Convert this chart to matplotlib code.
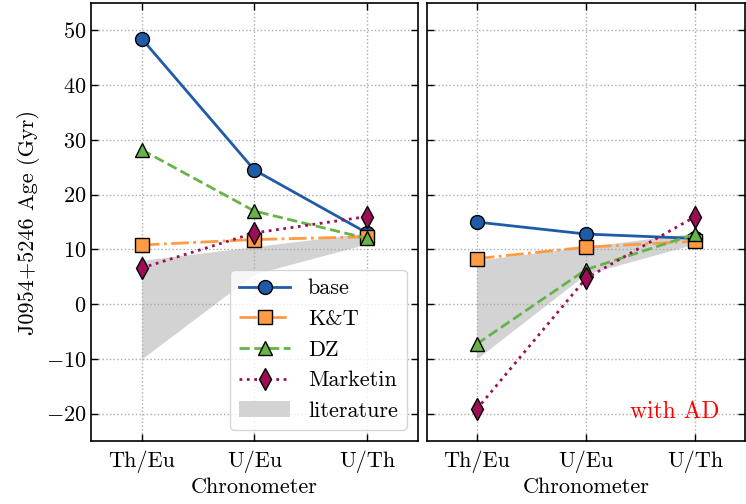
import matplotlib
matplotlib.use("Agg")
import matplotlib.pyplot as plt

plt.rcParams["font.family"] = "serif"
plt.rcParams["font.serif"] = ["cmr10"]
plt.rcParams["mathtext.fontset"] = "cm"
plt.rcParams["axes.formatter.use_mathtext"] = True
plt.rcParams["font.size"] = 16

# Data
chronometers = ["Th/Eu", "U/Eu", "U/Th"]
x = [0, 1, 2]

base_noad = [48.5, 24.5, 13.0]
kt_noad = [10.8, 11.8, 12.3]
dz_noad = [28.2, 17.0, 12.0]
marketin_noad = [6.6, 13.0, 16.0]

base_ad = [15.0, 12.8, 12.0]
kt_ad = [8.3, 10.4, 11.5]
dz_ad = [-7.3, 6.3, 12.8]
marketin_ad = [-19.2, 4.7, 16.0]

lit_low = [-10.0, 5.5, 11.0]
lit_high = [8.0, 10.5, 13.0]

c_base = "#1f5ba6"
c_kt = "#ff9a45"
c_dz = "#66b447"
c_mar = "#9c0f55"

fig = plt.figure(figsize=(7.46, 5.04), dpi=100)
ax1 = fig.add_axes([0.122, 0.125, 0.438, 0.869])
ax2 = fig.add_axes([0.573, 0.125, 0.425, 0.869], sharey=ax1)

mk = dict(markersize=10, markeredgecolor="black", markeredgewidth=1.0)


def draw(ax, base, kt, dz, mar):
    ax.fill_between(x, lit_low, lit_high, color="lightgray", lw=0, label="literature", zorder=1)
    ax.plot(x, base, "-", color=c_base, marker="o", lw=2, label="base", zorder=3, **mk)
    ax.plot(x, kt, "-.", color=c_kt, marker="s", lw=2, label="K&T", zorder=3, **mk)
    ax.plot(x, dz, "--", color=c_dz, marker="^", lw=2, label="DZ", zorder=3, **mk)
    ax.plot(x, mar, ":", color=c_mar, marker="d", lw=2, label="Marketin", zorder=3,
            markersize=11, markeredgecolor="black", markeredgewidth=1.0)
    ax.set_xticks(x)
    ax.set_xticklabels(chronometers)
    ax.set_xlim(-0.45, 2.45)
    ax.set_ylim(-25, 55)
    ax.set_yticks([-20, -10, 0, 10, 20, 30, 40, 50])
    ax.grid(True, ls=":", color="#aaaaaa", lw=1)
    ax.tick_params(direction="in", top=True, right=True, length=5, width=1)
    ax.tick_params(axis="x", pad=7)
    ax.set_xlabel("Chronometer", labelpad=3)
    for s in ax.spines.values():
        s.set_linewidth(1.2)


draw(ax1, base_noad, kt_noad, dz_noad, marketin_noad)
draw(ax2, base_ad, kt_ad, dz_ad, marketin_ad)

ax1.set_ylabel("J0954+5246 Age (Gyr)")
plt.setp(ax2.get_yticklabels(), visible=False)

h, l = ax1.get_legend_handles_labels()
order = [1, 2, 3, 4, 0]
ax1.legend([h[i] for i in order], [l[i] for i in order], loc="lower right",
           fontsize=16, handlelength=2.3, labelspacing=0.5, fancybox=True)

ax2.text(0.92, 0.04, "with AD", color="red", fontsize=17,
         transform=ax2.transAxes, ha="right", va="bottom")

fig.savefig("out.png", dpi=100)
